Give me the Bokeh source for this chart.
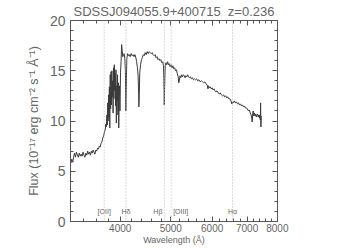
from bokeh.plotting import figure
from bokeh.models import (FixedTicker, NumeralTickFormatter, LinearAxis, LogAxis,
                          Span, Range1d, ColumnDataSource, CustomJSTickFormatter)
from bokeh.core.properties import value
from bokeh.embed import file_html
from bokeh.resources import INLINE

# ---- data ----
wavelength = [3218, 3230, 3243, 3256, 3270, 3283, 3297, 3311, 3325, 3339, 3353, 3367, 3381, 3395,
              3409, 3423, 3437, 3451, 3465, 3479, 3493, 3507, 3521, 3535, 3549, 3563, 3577, 3591,
              3605, 3619, 3633, 3647, 3661, 3675, 3689, 3703, 3717, 3731, 3745, 3755, 3763, 3771,
              3778, 3785, 3792, 3799, 3806, 3813, 3820, 3827, 3834, 3841, 3848, 3855, 3862, 3869,
              3876, 3883, 3890, 3897, 3904, 3911, 3918, 3925, 3932, 3939, 3946, 3953, 3960, 3967,
              3974, 3981, 3988, 3995, 4005, 4015, 4025, 4035, 4045, 4058, 4070, 4082, 4092, 4100,
              4108, 4118, 4132, 4148, 4163, 4180, 4198, 4215, 4232, 4250, 4268, 4285, 4300, 4315,
              4328, 4338, 4343, 4350, 4360, 4375, 4392, 4410, 4428, 4447, 4465, 4485, 4505, 4525,
              4545, 4565, 4585, 4605, 4625, 4645, 4665, 4685, 4705, 4725, 4745, 4765, 4785, 4805,
              4825, 4840, 4850, 4858, 4866, 4878, 4895, 4912, 4930, 4950, 4968, 4985, 5005, 5025,
              5045, 5065, 5085, 5105, 5125, 5145, 5165, 5178, 5192, 5208, 5225, 5245, 5265, 5285,
              5305, 5325, 5345, 5365, 5385, 5405, 5425, 5450, 5475, 5500, 5525, 5550, 5575, 5600,
              5630, 5660, 5690, 5720, 5750, 5780, 5810, 5840, 5870, 5890, 5905, 5925, 5950, 5975,
              6000, 6025, 6050, 6075, 6100, 6130, 6160, 6190, 6220, 6250, 6280, 6310, 6340, 6370,
              6400, 6430, 6460, 6490, 6520, 6545, 6565, 6590, 6620, 6650, 6680, 6710, 6740, 6770,
              6800, 6830, 6860, 6890, 6920, 6950, 6980, 7010, 7040, 7070, 7100, 7125, 7145, 7160,
              7175, 7190, 7210, 7230, 7250, 7270, 7290, 7310, 7330, 7350, 7370, 7390, 7405, 7420,
              7430, 7440, 7450]
flux = [5.8, 6.2, 5.9, 6.4, 6.8, 6.4, 6.9, 6.6, 6.4, 6.8, 6.5, 6.7, 6.5, 6.9,
        6.6, 6.4, 6.8, 6.6, 7.0, 6.7, 6.9, 6.6, 7.0, 6.8, 7.1, 6.9, 6.7, 7.1,
        7.0, 7.3, 7.2, 7.5, 7.4, 7.8, 7.9, 8.3, 8.5, 8.9, 9.2, 9.7, 9.4, 10.6,
        9.6, 11.8, 10.0, 12.6, 10.4, 13.4, 9.3, 14.6, 11.2, 14.9, 11.6, 15.0, 12.4, 14.0,
        10.8, 15.3, 12.2, 15.6, 13.0, 14.8, 11.5, 15.1, 9.8, 13.5, 12.0, 14.6, 10.6, 13.8,
        9.3, 12.4, 13.5, 11.0, 14.8, 15.9, 17.6, 17.0, 16.4, 16.6, 16.7, 16.2, 15.0, 11.0,
        13.4, 16.2, 16.7, 16.5, 16.6, 16.4, 16.7, 16.5, 16.6, 16.4, 16.6, 16.3, 15.9, 15.3,
        14.6, 12.8, 11.4, 12.5, 14.8, 15.6, 16.1, 16.3, 16.6, 16.5, 16.8, 16.6, 16.9, 16.7,
        16.9, 16.8, 16.7, 16.8, 16.6, 16.5, 16.6, 16.3, 16.4, 16.1, 16.2, 16.0, 16.1, 15.8,
        15.9, 15.5, 14.2, 11.6, 13.6, 15.5, 15.8, 15.6, 15.9, 15.6, 15.7, 15.4, 15.6, 15.3,
        15.5, 15.2, 15.3, 15.0, 15.1, 14.7, 14.4, 13.8, 14.0, 14.5, 14.3, 14.6, 14.4, 14.6,
        14.5, 14.3, 14.5, 14.4, 14.6, 14.4, 14.3, 14.4, 14.2, 14.3, 14.1, 14.2, 14.1, 14.2,
        14.0, 14.1, 13.9, 14.0, 13.9, 13.8, 13.9, 13.7, 13.6, 13.2, 13.5, 13.3, 13.4, 13.2,
        13.3, 13.1, 13.2, 13.0, 12.9, 13.0, 12.8, 12.7, 12.8, 12.6, 12.5, 12.6, 12.4, 12.5,
        12.3, 12.4, 12.2, 12.2, 12.0, 11.7, 11.9, 11.8, 12.0, 11.8, 11.9, 11.7, 11.8, 11.6,
        11.7, 11.5, 11.6, 11.4, 11.5, 11.3, 11.3, 11.2, 11.0, 11.1, 10.8, 10.6, 10.3, 9.9,
        10.7, 11.0, 10.5, 10.8, 10.5, 10.7, 10.4, 10.6, 10.7, 10.4, 10.6, 10.3, 10.6, 10.1,
        11.8, 9.4, 10.5]

line_names = ["[OII]", "H\u03b4", "H\u03b2", "[OIII]", "H\u03b1"]
line_wl = [3727, 4102, 4861, 5007, 6563]
line_align = ["center", "center", "right", "left", "center"]
line_xoff = [0, 0, -2, 2, 0]
label_y = [1.0, 1.0, 1.0, 1.0, 1.0]

x_ticks = [4000, 5000, 6000, 7000, 8000]
x_minor = [3400, 3600, 3800, 4200, 4400, 4600, 4800, 5200, 5400, 5600, 5800,
           6200, 6400, 6600, 6800, 7200, 7400, 7600, 7800]
y_ticks = [0, 5, 10, 15, 20]
y_minor = [v for v in range(0, 21) if v % 5 != 0]

title_text = "SDSSJ094055.9+400715\u00a0\u00a0z=0.236"
xlabel = "Wavelength (\u00c5)"
ylabel = "Flux (10\u207b\u00b9\u2077 erg cm\u207b\u00b2 s\u207b\u00b9 \u00c5\u207b\u00b9)"

TXT = "#666666"
AX = "#555555"
FONT = "Liberation Sans"

W, H = 347, 248
BL, BR, BT, BB = 70, 70, 17, 27

p = figure(width=W, height=H, x_axis_type="log",
           x_range=Range1d(3212, 8005), y_range=Range1d(0, 20),
           output_backend="svg", toolbar_location=None, title=title_text,
           min_border_left=BL, min_border_right=BR, min_border_top=BT, min_border_bottom=BB)
p.xgrid.visible = False
p.ygrid.visible = False
p.outline_line_color = AX
p.background_fill_color = "white"
p.border_fill_color = "white"

p.title.align = "center"
p.title.text_font = FONT
p.title.text_font_size = "13px"
p.title.text_font_style = "normal"
p.title.text_color = TXT
p.title.standoff = 3
p.title.offset = 0

xt = FixedTicker(ticks=x_ticks, minor_ticks=x_minor)
yt = FixedTicker(ticks=y_ticks, minor_ticks=y_minor)
blank = CustomJSTickFormatter(code="return ''")

def style(ax):
    ax.axis_line_color = AX
    ax.major_tick_line_color = AX
    ax.minor_tick_line_color = AX
    ax.major_tick_in = 5
    ax.major_tick_out = 0
    ax.minor_tick_in = 3
    ax.minor_tick_out = 0
    ax.major_label_text_color = TXT
    ax.major_label_text_font = FONT
    ax.axis_label_text_color = TXT
    ax.axis_label_text_font = FONT
    ax.axis_label_text_font_style = "normal"

p.xaxis.ticker = xt
p.xaxis.formatter = NumeralTickFormatter(format="0")
p.yaxis.ticker = yt
style(p.xaxis[0])
style(p.yaxis[0])
p.xaxis.major_label_text_font_size = "10px"
p.xaxis.major_label_standoff = 2
p.xaxis.axis_label = xlabel
p.xaxis.axis_label_text_font_size = "9px"
p.xaxis.axis_label_standoff = 0
p.yaxis.major_label_text_font_size = "14px"
p.yaxis.major_label_standoff = 5
p.yaxis.axis_label = ylabel
p.yaxis.axis_label_text_font_size = "12.5px"
p.yaxis.axis_label_standoff = 6

top = LogAxis(ticker=xt, formatter=blank, major_label_standoff=0)
style(top)
p.add_layout(top, "above")
right = LinearAxis(ticker=yt, formatter=blank, major_label_standoff=0)
style(right)
p.add_layout(right, "right")

for wl in line_wl:
    p.add_layout(Span(location=wl, dimension="height", line_color="#b8b8b8",
                      line_dash="1 2", line_width=1))

src = ColumnDataSource(dict(x=wavelength, y=flux))
p.line("x", "y", source=src, line_color="#3a3a3a", line_width=1)

lsrc = ColumnDataSource(dict(x=line_wl, y=label_y, t=line_names, a=line_align, xo=line_xoff))
p.text(x="x", y="y", text="t", source=lsrc, text_align="a", x_offset="xo",
       text_baseline="middle", text_font_size="7px", text_color=TXT,
       text_font=value(FONT))

open("out.html", "w").write(file_html(p, INLINE))
